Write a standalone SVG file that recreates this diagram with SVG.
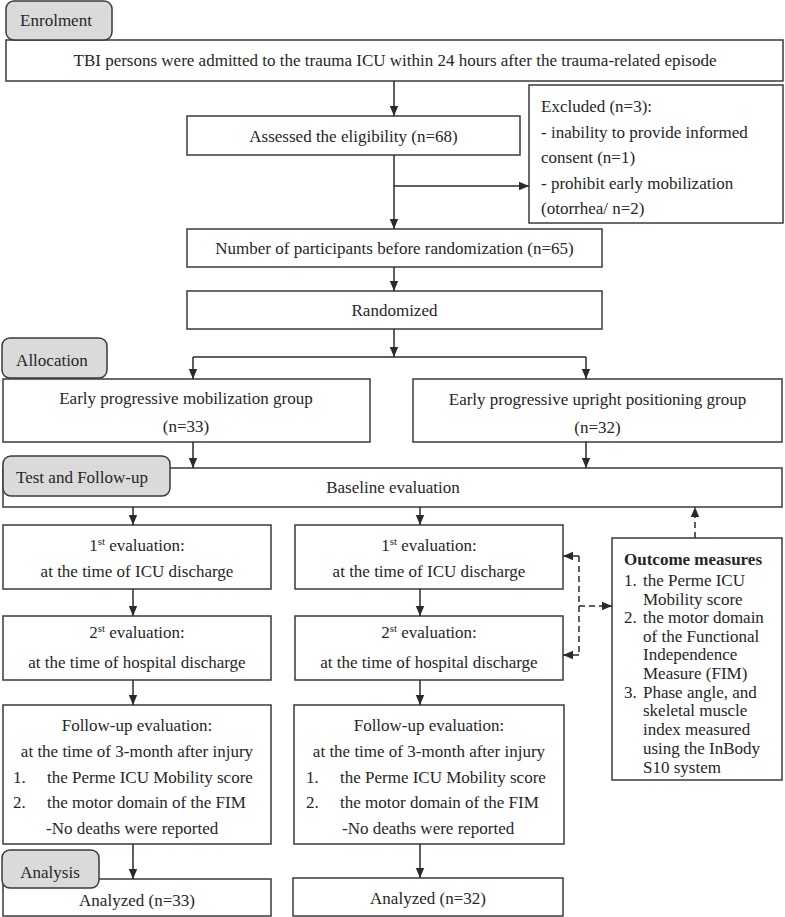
<svg xmlns="http://www.w3.org/2000/svg" width="785" height="917" viewBox="0 0 785 917">
<defs>
<marker id="ah" markerUnits="userSpaceOnUse" markerWidth="10" markerHeight="10" viewBox="0 0 10 10" refX="10" refY="5" orient="auto">
<path d="M0,0.8 L10,5 L0,9.2 Z" fill="#2a2a2a"/>
</marker>
<style>
.box{fill:#fff;stroke:#3a3a3a;stroke-width:1.5}
.tab{fill:#dadada;stroke:#3a3a3a;stroke-width:1.5}
.t{font-family:"Liberation Serif","Times New Roman",serif;font-size:17px;fill:#262626}
.m{text-anchor:middle}
.b{font-weight:bold}
.c{fill:none;stroke:#2a2a2a;stroke-width:1.5}
.a{marker-end:url(#ah)}
.d{stroke-dasharray:6,4}
.sup{font-size:11px}
</style>
</defs>
<rect width="785" height="917" fill="#fff"/>

<g id="top">
<rect class="box" x="6" y="40" width="777" height="41"/>
<text class="t m" x="395" y="66">TBI persons were admitted to the trauma ICU within 24 hours after the trauma-related episode</text>
</g>
<g id="enrolment">
<rect class="tab" x="6" y="1" width="106" height="39" rx="8"/>
<text class="t m" x="56" y="26">Enrolment</text>
</g>
<g id="assessed">
<rect class="box" x="187" y="116" width="333" height="39"/>
<text class="t m" x="353.5" y="142">Assessed the eligibility (n=68)</text>
</g>
<g id="excluded">
<rect class="box" x="529" y="85" width="254" height="138"/>
<text class="t" x="541" y="112">Excluded (n=3):</text>
<text class="t" x="541" y="138">- inability to provide informed</text>
<text class="t" x="541" y="163">consent (n=1)</text>
<text class="t" x="541" y="189">- prohibit early mobilization</text>
<text class="t" x="541" y="214">(otorrhea/ n=2)</text>
</g>
<g id="before">
<rect class="box" x="187" y="229" width="415" height="38"/>
<text class="t m" x="394.5" y="254">Number of participants before randomization (n=65)</text>
</g>
<g id="randomized">
<rect class="box" x="187" y="291" width="415" height="38"/>
<text class="t m" x="394.5" y="316">Randomized</text>
</g>
<g id="groupA">
<rect class="box" x="3" y="379" width="367" height="63"/>
<text class="t m" x="186" y="404">Early progressive mobilization group</text>
<text class="t m" x="186" y="432">(n=33)</text>
</g>
<g id="allocation">
<rect class="tab" x="2" y="338" width="105" height="40" rx="8"/>
<text class="t m" x="52" y="366">Allocation</text>
</g>
<g id="groupB">
<rect class="box" x="413" y="379" width="369" height="63"/>
<text class="t m" x="597.5" y="405">Early progressive upright positioning group</text>
<text class="t m" x="597.5" y="433">(n=32)</text>
</g>
<g id="baseline">
<rect class="box" x="3" y="468" width="779" height="39"/>
<text class="t m" x="393" y="493">Baseline evaluation</text>
</g>
<g id="testfollow">
<rect class="tab" x="3" y="456" width="167" height="40" rx="8"/>
<text class="t m" x="82" y="483">Test and Follow-up</text>
</g>
<g id="eval1A">
<rect class="box" x="3" y="525" width="268" height="64"/>
<text class="t m" x="137" y="551">1<tspan class="sup" dy="-6">st</tspan><tspan dy="6"> evaluation:</tspan></text>
<text class="t m" x="137" y="577">at the time of ICU discharge</text>
</g>
<g id="eval1B">
<rect class="box" x="295" y="525" width="268" height="64"/>
<text class="t m" x="429" y="551">1<tspan class="sup" dy="-6">st</tspan><tspan dy="6"> evaluation:</tspan></text>
<text class="t m" x="429" y="577">at the time of ICU discharge</text>
</g>
<g id="eval2A">
<rect class="box" x="3" y="616" width="268" height="64"/>
<text class="t m" x="137" y="638">2<tspan class="sup" dy="-6">st</tspan><tspan dy="6"> evaluation:</tspan></text>
<text class="t m" x="137" y="668">at the time of hospital discharge</text>
</g>
<g id="eval2B">
<rect class="box" x="295" y="616" width="268" height="64"/>
<text class="t m" x="429" y="638">2<tspan class="sup" dy="-6">st</tspan><tspan dy="6"> evaluation:</tspan></text>
<text class="t m" x="429" y="668">at the time of hospital discharge</text>
</g>
<g id="outcome">
<rect class="box" x="612" y="538" width="170" height="242"/>
<text class="t b" x="624" y="565">Outcome measures</text>
<text class="t" x="624" y="586">1.</text><text class="t" x="643" y="586">the Perme ICU</text>
<text class="t" x="643" y="605">Mobility score</text>
<text class="t" x="624" y="623">2.</text><text class="t" x="643" y="623">the motor domain</text>
<text class="t" x="643" y="642">of the Functional</text>
<text class="t" x="643" y="660">Independence</text>
<text class="t" x="643" y="679">Measure (FIM)</text>
<text class="t" x="624" y="698">3.</text><text class="t" x="643" y="698">Phase angle, and</text>
<text class="t" x="643" y="716">skeletal muscle</text>
<text class="t" x="643" y="735">index measured</text>
<text class="t" x="643" y="754">using the InBody</text>
<text class="t" x="643" y="773">S10 system</text>
</g>
<g id="followA">
<rect class="box" x="3" y="705" width="268" height="139"/>
<text class="t m" x="137" y="731">Follow-up evaluation:</text>
<text class="t m" x="137" y="757">at the time of 3-month after injury</text>
<text class="t" x="13" y="783">1.</text><text class="t" x="47" y="783">the Perme ICU Mobility score</text>
<text class="t" x="13" y="808">2.</text><text class="t" x="47" y="808">the motor domain of the FIM</text>
<text class="t" x="46" y="834">-No deaths were reported</text>
</g>
<g id="followB">
<rect class="box" x="294" y="705" width="270" height="139"/>
<text class="t m" x="429" y="731">Follow-up evaluation:</text>
<text class="t m" x="429" y="757">at the time of 3-month after injury</text>
<text class="t" x="306" y="783">1.</text><text class="t" x="340" y="783">the Perme ICU Mobility score</text>
<text class="t" x="306" y="808">2.</text><text class="t" x="340" y="808">the motor domain of the FIM</text>
<text class="t" x="342" y="834">-No deaths were reported</text>
</g>
<g id="analyzedA">
<rect class="box" x="3" y="879" width="268" height="37"/>
<text class="t m" x="137" y="906">Analyzed (n=33)</text>
</g>
<g id="analysis">
<rect class="tab" x="2" y="850" width="97" height="38" rx="8"/>
<text class="t m" x="50" y="878">Analysis</text>
</g>
<g id="analyzedB">
<rect class="box" x="293" y="878" width="270" height="38"/>
<text class="t m" x="428" y="904">Analyzed (n=32)</text>
</g>

<g id="connectors">
<path class="c a" d="M394,81 V116"/>
<path class="c a" d="M394,155 V229"/>
<path class="c a" d="M394,186 H529"/>
<path class="c a" d="M394,267 V291"/>
<path class="c a" d="M394,329 V357"/>
<path class="c" d="M193,357 H586"/>
<path class="c a" d="M193,357 V379"/>
<path class="c a" d="M586,357 V379"/>
<path class="c a" d="M193,442 V468"/>
<path class="c a" d="M586,442 V468"/>
<path class="c a" d="M133,507 V525"/>
<path class="c a" d="M420,507 V525"/>
<path class="c a" d="M133,589 V616"/>
<path class="c a" d="M420,589 V616"/>
<path class="c a" d="M133,680 V705"/>
<path class="c a" d="M420,680 V705"/>
<path class="c a" d="M133,844 V879"/>
<path class="c a" d="M420,844 V878"/>
<path class="c d a" d="M695,538 V507"/>
<path class="c d" d="M579,556 V655"/>
<path class="c a" d="M579,556 H563"/>
<path class="c a" d="M579,655 H563"/>
<path class="c d a" d="M579,606 H612"/>
</g>
</svg>
